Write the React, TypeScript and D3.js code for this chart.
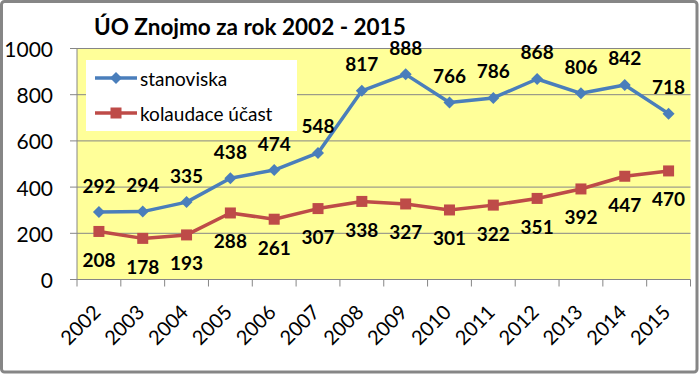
import React from "react";
import * as d3 from "d3";

const years = ["2002","2003","2004","2005","2006","2007","2008","2009","2010","2011","2012","2013","2014","2015"];
const stanoviska = [292,294,335,438,474,548,817,888,766,786,868,806,842,718];
const kolaudace = [208,178,193,288,261,307,338,327,301,322,351,392,447,470];
const yTicks = [0,200,400,600,800,1000];
const seriesNames = ["stanoviska","kolaudace účast"];
const title = "ÚO Znojmo za rok 2002 - 2015";

const W = 700, H = 374;
const FONT = "Lato, 'Open Sans', sans-serif";
const BLUE = "#4A7EBB";
const RED = "#BE4B48";
const GRID = "#868686";

export default function App() {
  const left = 77, right = 690.5, top = 48.5, bottom = 279.5;
  const x = d3.scaleBand<string>().domain(years).range([left, right]).padding(0);
  const y = d3.scaleLinear().domain([0, 1000]).range([bottom, top]);
  const cx = (yr: string) => (x(yr) as number) + x.bandwidth() / 2;
  const line = d3.line<number>().x((_, i) => cx(years[i])).y(d => y(d));

  const diamond = (px: number, py: number, r = 6) =>
    `M${px},${py - r}L${px + r},${py}L${px},${py + r}L${px - r},${py}Z`;

  return (
    <svg width={W} height={H} style={{ position: "absolute", left: 0, top: 0, fontFamily: FONT }}>
      <rect x={0} y={0} width={W} height={H} fill="#fff" />
      <rect x={1.5} y={1.5} width={695.5} height={370.5} rx={3} fill="#fff" stroke={GRID} strokeWidth={3} />
      <rect x={left} y={top} width={right - left} height={bottom - top} fill="#FFFF99" />
      {yTicks.map(t => (
        <g key={t}>
          {t > 0 && <line x1={left} x2={right} y1={y(t)} y2={y(t)} stroke={GRID} strokeWidth={1} />}
          <line x1={left - 7} x2={left} y1={y(t)} y2={y(t)} stroke={GRID} strokeWidth={1} />
          <text x={53} y={y(t)} textAnchor="end" dominantBaseline="central" fontSize={21} fill="#000">{t}</text>
        </g>
      ))}
      <line x1={left} x2={left} y1={top} y2={bottom} stroke={GRID} strokeWidth={1} />
      <line x1={left} x2={right} y1={bottom} y2={bottom} stroke={GRID} strokeWidth={1} />
      {years.map((yr, i) => (
        <line key={"t" + yr} x1={x(yr) as number} x2={x(yr) as number} y1={bottom} y2={bottom + 7} stroke={GRID} strokeWidth={1} />
      ))}
      <line x1={right} x2={right} y1={bottom} y2={bottom + 7} stroke={GRID} strokeWidth={1} />
      {years.map(yr => (
        <text key={"l" + yr} transform={`translate(${cx(yr) + 3},${bottom + 34}) rotate(-45)`} textAnchor="end" fontSize={20} fill="#000">{yr}</text>
      ))}
      <path d={line(stanoviska) || ""} fill="none" stroke={BLUE} strokeWidth={3.5} strokeLinejoin="round" />
      <path d={line(kolaudace) || ""} fill="none" stroke={RED} strokeWidth={3.5} strokeLinejoin="round" />
      {stanoviska.map((v, i) => (
        <path key={"bd" + i} d={diamond(cx(years[i]), y(v))} fill={BLUE} />
      ))}
      {kolaudace.map((v, i) => (
        <rect key={"rs" + i} x={cx(years[i]) - 5.5} y={y(v) - 5.5} width={11} height={11} fill={RED} />
      ))}
      {stanoviska.map((v, i) => (
        <text key={"bl" + i} x={cx(years[i])} y={y(v) - 27} textAnchor="middle" dominantBaseline="central" fontSize={19} fontWeight="bold" fill="#000">{v}</text>
      ))}
      {kolaudace.map((v, i) => (
        <text key={"rl" + i} x={cx(years[i])} y={y(v) + 28} textAnchor="middle" dominantBaseline="central" fontSize={19} fontWeight="bold" fill="#000">{v}</text>
      ))}
      <rect x={86} y={60} width={211} height={71} fill="#fff" />
      <line x1={95} x2={137} y1={78} y2={78} stroke={BLUE} strokeWidth={3.5} />
      <path d={diamond(116, 78)} fill={BLUE} />
      <text x={140} y={78} dominantBaseline="central" fontSize={19} fill="#000">{seriesNames[0]}</text>
      <line x1={95} x2={137} y1={113} y2={113} stroke={RED} strokeWidth={3.5} />
      <rect x={110.5} y={107.5} width={11} height={11} fill={RED} />
      <text x={140} y={113} dominantBaseline="central" fontSize={19} fill="#000">{seriesNames[1]}</text>
      <text x={94} y={35} fontSize={22.5} fontWeight="bold" fill="#000">{title}</text>
    </svg>
  );
}
